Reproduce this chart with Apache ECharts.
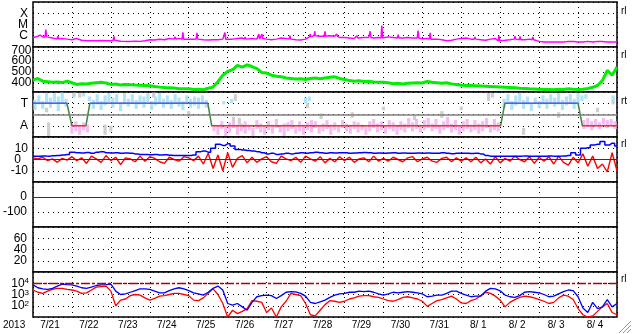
<!DOCTYPE html>
<html>
<head>
<meta charset="utf-8">
<script src="https://cdn.jsdelivr.net/npm/echarts@6/dist/echarts.min.js"></script>
<style>
html, body { margin: 0; padding: 0; background: #fff; }
#chart { width: 633px; height: 334px; }
</style>
</head>
<body>
<div id="chart"></div>
<script>
// days from 2013-07-21 00UT, samples every 3 hours
const STEP = 1 / 8;
const dayLabels = ["7/21", "7/22", "7/23", "7/24", "7/25", "7/26", "7/27", "7/28", "7/29", "7/30", "7/31", "8/ 1", "8/ 2", "8/ 3", "8/ 4"];

// log10 of X-ray background flux (W/m2)
const xrayLog = [
  -6.18, -6.05, -6.1, -6.1, -6.2, -6.3, -6.25, -6.3,
  -6.35, -6.25, -6.4, -6.45, -6.45, -6.45, -6.42, -6.45,
  -6.45, -6.4, -6.48, -6.5, -6.5, -6.48, -6.5, -6.45,
  -6.35, -6.38, -6.32, -6.35, -6.25, -6.3, -6.25, -6.3,
  -6.3, -6.32, -6.3, -6.35, -6.38, -6.35, -6.35, -6.3,
  -6.28, -6.3, -6.25, -6.2, -6.3, -6.25, -6.3, -6.25,
  -6.3, -6.35, -6.3, -6.2, -6.25, -6.3, -6.35, -6.38,
  -6.3, -6.1, -6.0, -6.05, -6.05, -6.0, -6.05, -6.15,
  -6.15, -6.2, -6.25, -6.2, -6.15, -6.15, -6.2, -6.15,
  -6.2, -6.1, -6.15, -6.2, -6.2, -6.15, -6.2, -6.2,
  -6.27, -6.25, -6.3, -6.3, -6.35, -6.45, -6.4, -6.3,
  -6.25, -6.2, -6.3, -6.3, -6.35, -6.4, -6.3, -6.25,
  -6.45, -6.4, -6.35, -6.3, -6.35, -6.35, -6.3, -6.35,
  -6.5, -6.55, -6.55, -6.55, -6.55, -6.55, -6.5, -6.52,
  -6.55, -6.55, -6.5, -6.55, -6.5, -6.52, -6.55, -6.55, -6.55
];
// short flares: [day, log10 peak]
const xrayFlares = [
  [0.18, -5.95], [0.33, -5.45], [0.64, -6.05], [1.13, -6.15], [2.08, -6.05],
  [3.65, -6.1], [3.85, -5.7], [4.21, -5.75], [4.93, -5.72], [5.45, -6.1],
  [5.8, -5.85], [5.88, -5.85], [6.6, -6.0], [7.12, -5.85], [7.24, -5.6],
  [7.5, -5.6], [7.63, -5.95], [7.8, -5.85], [8.32, -6.0], [8.66, -5.6],
  [8.96, -5.1], [9.38, -5.9], [9.89, -5.55], [10.2, -5.75], [11.35, -6.1],
  [11.97, -6.0], [12.38, -6.05], [12.51, -6.05], [12.84, -6.1], [13.54, -6.4]
];

// solar wind speed (km/s)
const windSpeed = [
  424, 440, 415, 410, 405, 408, 402, 415,
  400, 385, 392, 388, 395, 400, 405, 398,
  385, 388, 380, 385, 383, 380, 378, 376,
  372, 365, 360, 356, 354, 352, 346, 344,
  344, 338, 340, 336, 350, 360, 410, 470,
  505, 520, 560, 545, 565, 550, 530, 495,
  490, 470, 460, 455, 445, 440, 435, 438,
  430, 440, 445, 438, 445, 450, 455, 440,
  430, 420, 415, 418, 412, 415, 408, 405,
  405, 400, 392, 395, 388, 395, 398, 400,
  399, 412, 405, 400, 395, 400, 390, 385,
  378, 375, 374, 372, 370, 368, 366, 364,
  362, 358, 356, 354, 350, 348, 344, 342,
  340, 338, 338, 336, 340, 338, 344, 340,
  338, 340, 348, 358, 375, 420, 515, 470, 545
];

// IMF sector: +1 toward, -1 away
const sectorLine = [[0, 1], [0.87, 1], [1.0, -1], [1.36, -1], [1.46, 1], [4.49, 1], [4.59, -1],
  [12.01, -1], [12.12, 1], [14.0, 1], [14.11, -1], [15, -1]];

// sector point clouds: [day, low, high]
const sectorToward = [
  [0.05, 0.4, 1.3], [0.15, 0.9, 1.7], [0.25, 0.5, 1.2], [0.35, 1.0, 1.9], [0.45, 0.6, 1.5],
  [0.55, 1.1, 1.9], [0.65, 0.3, 1.6], [0.75, 1.0, 1.95], [0.85, 0.7, 1.4],
  [1.05, 1.5, 1.8], [1.3, 1.6, 1.9], [1.45, 1.2, 1.6],
  [1.55, 0.5, 1.3], [1.65, 0.9, 1.8], [1.75, 0.4, 1.2], [1.85, 0.8, 1.7], [1.95, 1.1, 1.9],
  [2.05, 0.6, 1.5], [2.15, 1.0, 1.8], [2.25, 0.3, 1.1], [2.35, 0.9, 1.9], [2.45, 0.7, 1.4],
  [2.55, 1.0, 1.8], [2.65, 0.5, 1.3], [2.75, 0.9, 1.7], [2.85, 0.6, 1.6], [2.95, 1.1, 1.9],
  [3.05, 0.4, 1.2], [3.15, 0.8, 1.6], [3.25, 1.0, 1.9], [3.35, 0.6, 1.4], [3.45, 0.9, 1.7],
  [3.55, 0.5, 1.3], [3.65, 1.0, 1.8], [3.75, 0.7, 1.5], [3.85, 0.4, 1.2], [3.95, 0.9, 1.7],
  [4.05, 0.6, 1.4], [4.15, 0.8, 1.6], [4.25, 0.5, 1.5], [4.35, 0.9, 1.7], [4.45, 0.6, 1.3],
  [4.9, 0.9, 1.2], [5.1, 1.0, 1.4], [7.0, 1.0, 1.5], [7.1, 1.2, 1.6],
  [12.1, 0.6, 1.4], [12.2, 1.0, 1.8], [12.3, 0.4, 1.2], [12.4, 0.8, 1.7], [12.5, 1.1, 1.9],
  [12.6, 0.5, 1.3], [12.7, 0.9, 1.6], [12.8, 0.3, 1.0], [12.9, 1.0, 1.5], [13.0, 0.6, 1.2],
  [13.1, 0.9, 1.7], [13.2, 0.5, 1.4], [13.3, 1.0, 1.8], [13.4, 0.7, 1.5], [13.5, 0.9, 1.9],
  [13.6, 0.4, 1.3], [13.7, 0.8, 1.6], [13.8, 1.0, 1.8], [13.9, 0.5, 1.4], [14.0, 0.9, 1.9],
  [14.1, 1.2, 1.7], [14.2, 1.4, 1.8], [14.9, 1.3, 1.7]
];
const sectorAway = [
  [1.0, -1.7, -0.8], [1.1, -1.5, -0.6], [1.2, -1.8, -1.0], [1.3, -1.4, -0.7], [1.4, -1.6, -0.9],
  [4.65, -1.5, -0.9], [4.75, -1.8, -1.0], [4.85, -1.3, -0.6], [4.95, -1.9, -1.1], [5.05, -1.6, -0.7],
  [5.15, -1.2, -0.5], [5.25, -1.8, -0.9], [5.35, -1.5, -0.8], [5.45, -1.7, -0.6], [5.55, -1.4, -0.9],
  [5.65, -1.9, -1.2], [5.75, -1.3, -0.5], [5.85, -1.6, -0.8], [5.95, -1.8, -1.0], [6.05, -1.4, -0.6],
  [6.15, -1.7, -0.9], [6.25, -1.2, -0.4], [6.35, -1.6, -1.0], [6.45, -1.9, -0.8], [6.55, -1.5, -0.7],
  [6.65, -1.3, -0.5], [6.75, -1.7, -1.1], [6.85, -1.5, -0.6], [6.95, -1.8, -0.9], [7.05, -1.4, -0.7],
  [7.15, -1.6, -0.5], [7.25, -1.2, -0.6], [7.35, -1.7, -1.0], [7.45, -1.5, -0.8], [7.55, -1.3, -0.5],
  [7.65, -1.8, -0.9], [7.75, -1.4, -0.7], [7.85, -1.6, -1.0], [7.95, -1.2, -0.5], [8.05, -1.5, -0.8],
  [8.15, -1.7, -0.9], [8.25, -1.3, -0.6], [8.35, -1.6, -0.7], [8.45, -1.4, -0.9], [8.55, -1.8, -1.1],
  [8.65, -1.5, -0.6], [8.75, -1.2, -0.4], [8.85, -1.6, -0.8], [8.95, -1.4, -0.6], [9.05, -1.7, -1.0],
  [9.15, -1.3, -0.5], [9.25, -1.5, -0.7], [9.35, -1.8, -0.9], [9.45, -1.4, -0.6], [9.55, -1.6, -0.8],
  [9.65, -1.2, -0.3], [9.75, -1.5, -0.7], [9.85, -1.3, -0.4], [9.95, -1.6, -0.9], [10.05, -1.4, -0.5],
  [10.15, -1.2, -0.3], [10.25, -1.5, -0.8], [10.35, -1.3, -0.4], [10.45, -1.7, -0.9], [10.55, -1.4, -0.6],
  [10.65, -1.2, -0.2], [10.75, -1.6, -0.8], [10.85, -1.4, -0.5], [10.95, -1.8, -1.0], [11.05, -1.5, -0.6],
  [11.15, -1.3, -0.4], [11.25, -1.6, -0.9], [11.35, -1.4, -0.5], [11.45, -1.7, -0.8], [11.55, -1.5, -0.6],
  [11.65, -1.2, -0.3], [11.75, -1.6, -0.9], [11.85, -1.4, -0.4], [11.95, -1.5, -0.7],
  [14.15, -1.3, -0.5], [14.25, -1.1, -0.3], [14.35, -1.4, -0.6], [14.45, -1.0, -0.4], [14.55, -1.3, -0.7],
  [14.65, -0.9, -0.3], [14.75, -1.2, -0.5], [14.85, -1.0, -0.4], [14.95, -1.3, -0.6]
];
const sectorMixed = [
  [0.35, 0.2, 0.6], [0.4, -1.9, -0.7], [1.05, 1.6, 1.95], [1.2, 1.5, 1.9], [1.85, -1.8, -0.9],
  [2.0, -1.5, -1.0], [3.1, 1.5, 1.95], [4.0, -0.2, 0.3], [5.15, -0.6, -0.2], [5.2, 1.2, 1.8],
  [5.3, -0.9, -0.3], [7.05, 0.6, 1.0], [7.4, -0.4, 0.1], [8.2, -0.3, 0.2], [9.0, 0.4, 0.7],
  [9.8, -0.5, -0.1], [10.5, -0.3, 0.3], [11.0, 0.4, 0.7], [11.7, 1.2, 1.9], [11.8, 1.5, 1.9],
  [12.6, -1.8, -1.2], [13.5, -0.3, 0.2], [14.5, 0.2, 0.6], [14.9, 0.9, 1.3]
];

// IMF Bt and Bz (nT)
const imfBt = [
  3.0, 2.8, 3.2, 3.0, 3.3, 3.5, 4.0, 4.5,
  6.5, 6.0, 5.8, 6.2, 5.5, 6.5, 7.0, 6.0,
  5.8, 6.0, 5.5, 5.8, 5.6, 5.0, 4.5, 4.4,
  4.3, 4.5, 4.0, 4.2, 3.8, 3.5, 3.6, 3.5,
  3.6, 4.0, 7.0, 7.5, 6.5, 10.0, 13.5, 12.5,
  14.0, 12.0, 9.0, 8.5, 8.0, 7.5, 7.0, 6.0,
  5.0, 5.5, 4.5, 5.0, 5.5, 5.0, 5.5, 6.0,
  5.5, 6.0, 6.5, 6.0, 5.5, 6.0, 5.8, 6.0,
  6.0, 5.5, 5.8, 6.0, 6.2, 6.0, 5.5, 5.8,
  5.5, 5.8, 6.0, 5.5, 5.8, 5.6, 5.5, 5.8,
  5.5, 5.8, 5.6, 5.5, 6.0, 5.5, 5.2, 5.5,
  5.5, 5.6, 5.4, 5.5, 5.0, 3.5, 3.0, 2.9,
  3.0, 2.8, 3.0, 2.9, 3.0, 3.1, 2.9, 3.0,
  3.0, 2.9, 3.2, 3.0, 3.0, 3.1, 3.5, 6.0,
  4.0, 10.0, 10.5, 13.0, 13.5, 16.0, 13.0, 14.5, 12.0
];
const imfBz = [
  1.5, 0.5, 2.0, -1.0, 0.5, -2.5, 1.0, -0.5,
  2.5, -1.0, 1.5, -3.5, 3.0, 0.5, -2.5, 3.5,
  -1.0, 2.0, -4.5, 1.5, 0.5, -2.0, 3.0, -1.5,
  2.5, 1.0, -2.0, -3.5, 2.0, 0.0, -1.5, 2.5,
  1.5, -1.0, 3.0, -4.0, 5.5, -8.0, 4.0, -10.0,
  6.0, -7.0, 1.0, 3.5, -3.0, 2.0, -2.5, 0.5,
  2.5, -2.0, -3.5, 3.0, 0.5, -1.0, 2.0, -2.5,
  3.0, 0.5, -1.5, 2.5, -3.0, 1.0, -2.0, 2.5,
  -1.0, 2.0, -2.5, 0.5, 1.5, -2.0, 3.0, -1.5,
  1.0, -1.5, 2.0, 0.0, -2.0, 1.5, 2.5, -2.0,
  0.5, 2.0, -1.5, -2.5, 1.0, 2.0, -2.0, 1.5,
  -1.5, 1.5, -2.0, 2.0, -3.0, 0.5, -4.0, 2.5,
  -3.0, 1.0, -1.5, 3.0, 0.0, -2.0, 2.5, -3.5,
  2.0, -1.5, 2.5, -4.0, 3.0, -2.5, -5.0, 2.0,
  -3.0, 5.0, -6.0, 3.0, -8.0, -4.0, -11.0, 6.0, -10.0
];

// log10 of particle flux, two channels
const fluxHigh = [
  3.85, 3.6, 3.5, 3.45, 3.55, 3.75, 3.92, 3.88,
  3.85, 3.75, 3.6, 3.55, 3.65, 3.8, 3.85, 3.88,
  3.93, 3.3, 3.0, 3.05, 3.2, 3.35, 3.5, 3.5,
  3.45, 3.3, 3.15, 3.15, 3.35, 3.5, 3.6, 3.5,
  3.35, 3.15, 3.05, 2.94, 3.2, 3.55, 3.75, 3.4,
  2.2, 2.05, 2.2, 1.9, 1.6, 2.3, 2.8, 2.9,
  2.94, 2.9, 2.64, 2.9, 3.2, 3.25, 3.24, 3.1,
  2.85, 2.3, 2.2, 2.35, 2.5, 2.75, 2.95, 3.05,
  3.1, 3.2, 3.2, 3.3, 3.25, 3.3, 3.2, 3.05,
  2.95, 3.05, 3.2, 3.15, 3.2, 3.25, 3.2, 3.15,
  3.05, 2.8, 2.85, 2.95, 2.95, 3.1, 3.3, 3.3,
  3.1, 2.95, 2.8, 2.85, 2.85, 3.3, 3.55, 3.5,
  3.33, 2.95, 2.8, 2.75, 2.9, 3.2, 3.25, 3.2,
  3.15, 3.0, 2.8, 2.85, 3.05, 3.25, 3.4, 3.35,
  2.8, 1.8, 1.4, 2.3, 1.75, 1.9, 2.55, 1.9, 2.2
];
const fluxLow = [
  3.4, 3.2, 3.1, 3.3, 3.45, 3.55, 3.55, 3.45,
  3.4, 3.3, 3.1, 3.15, 3.4, 3.65, 3.7, 3.75,
  3.3, 2.0, 2.5, 2.6, 2.9, 3.0, 2.95, 2.7,
  2.5, 2.65, 2.85, 2.9, 3.0, 3.1, 3.1, 3.0,
  2.9, 2.5, 2.45, 2.7, 3.1, 3.5, 3.0, 2.2,
  1.0, 1.6, 1.3, 1.5, 1.75, 2.45, 2.4, 2.3,
  1.4, 1.8, 1.0, 1.9, 2.4, 3.1, 3.0, 2.9,
  2.2, 1.2, 1.1, 1.6, 2.1, 2.45, 2.4, 2.3,
  2.4, 2.6, 2.7, 2.85, 2.9, 2.9, 2.8, 2.75,
  2.6, 2.45, 2.4, 2.55, 2.75, 2.8, 2.7, 2.6,
  2.4, 1.94, 2.2, 2.45, 2.55, 2.7, 2.85, 2.6,
  2.25, 2.2, 2.45, 2.6, 2.9, 3.2, 3.1, 2.85,
  2.5, 1.9, 2.3, 2.55, 2.75, 2.85, 2.8, 2.7,
  2.55, 2.4, 2.2, 2.3, 2.7, 2.94, 2.85, 2.55,
  1.75, 1.2, 1.0, 1.1, 1.5, 1.9, 2.2, 1.4, 1.2
];

const PANEL_TOPS = [2, 47, 92, 137, 182, 227, 272];
const PANEL_H = 45;
const DOT = { color: "#000", type: [1, 4], width: 1 };
const FONT = "Liberation Sans, Arial, sans-serif";

const sampled = arr => arr.map((v, i) => [i * STEP, v]);
const sampledPow = arr => arr.map((v, i) => [i * STEP, Math.pow(10, v)]);

// background samples plus narrow flare spikes, in time order
function xrayPoints() {
  const pts = xrayLog.map((v, i) => [i * STEP, v]);
  xrayFlares.forEach(([d, peak]) => {
    const base = xrayLog[Math.min(xrayLog.length - 1, Math.round(d / STEP))];
    pts.push([d - 0.02, base], [d, peak], [d + 0.02, base]);
  });
  pts.sort((a, b) => a[0] - b[0]);
  return pts.map(([d, v]) => [d, Math.pow(10, v)]);
}

function streak(color) {
  return function (params, api) {
    const d = api.value(0);
    const lo = api.coord([d, api.value(1)]);
    const hi = api.coord([d, api.value(2)]);
    return {
      type: "rect",
      shape: { x: lo[0] - 1.6, y: hi[1], width: 3.2, height: lo[1] - hi[1] },
      style: { fill: color }
    };
  };
}

function yAx(k, extra, labelFn, margin) {
  return Object.assign({
    gridIndex: k,
    axisLine: { show: false },
    axisTick: { show: false },
    splitLine: { show: true, lineStyle: DOT },
    axisLabel: { formatter: labelFn, color: "#000", fontSize: 12, fontFamily: FONT, margin: margin }
  }, extra);
}

const chart = echarts.init(document.getElementById("chart"), null, { renderer: "canvas" });

const grids = PANEL_TOPS.map(t => ({
  left: 33, top: t, width: 584, height: PANEL_H,
  show: true, borderColor: "#000", borderWidth: 1.5, backgroundColor: "#fff"
}));

const xAxes = PANEL_TOPS.map((t, k) => ({
  type: "value", gridIndex: k, min: 0, max: 15, interval: 1, position: "bottom",
  axisLine: { show: false }, axisTick: { show: false }, axisLabel: { show: false },
  splitLine: { show: true, lineStyle: DOT }
}));
xAxes.push({
  type: "category", gridIndex: 6, position: "bottom", data: dayLabels, boundaryGap: true,
  axisLine: { show: false }, axisTick: { show: false }, splitLine: { show: false },
  axisLabel: { interval: 0, fontSize: 10, color: "#000", fontFamily: FONT, margin: 3, padding: [0, 5, 0, 0] }
});

const xrayNames = { "-4": "X", "-5": "M", "-6": "C" };
const yAxes = [
  yAx(0, { type: "log", logBase: 10, min: 1e-7, max: 1e-3 },
    v => xrayNames[Math.round(Math.log10(v))] || "", 5),
  yAx(1, { type: "value", min: 315, max: 730, splitNumber: 4, minInterval: 100, maxInterval: 100 },
    v => (v % 100 === 0 ? String(v) : ""), 1.5),
  yAx(2, { type: "value", min: -2, max: 2, interval: 1 },
    v => (v === 1 ? "T" : v === -1 ? "A" : ""), 5),
  yAx(3, { type: "value", min: -20, max: 20, interval: 10 },
    v => (v === 0 ? "{z|0}" : Math.abs(v) === 10 ? String(v) : ""), 5),
  yAx(4, { type: "value", min: -200, max: 100, interval: 100 },
    v => (v === 0 || v === -100 ? String(v) : ""), 6),
  yAx(5, { type: "value", min: 0, max: 80, interval: 20 },
    v => (v > 0 && v < 80 ? String(v) : ""), 6),
  yAx(6, { type: "log", logBase: 10, min: 10, max: 1e5 },
    v => {
      const e = Math.round(Math.log10(v));
      return e >= 2 && e <= 4 ? "{b|10}{s|" + e + "}" : "";
    }, 4)
];
yAxes[3].axisLabel.rich = { z: { fontSize: 12, fontFamily: FONT, color: "#000", padding: [0, 7, 0, 0] } };
yAxes[6].axisLabel.rich = {
  b: { fontSize: 12, fontFamily: FONT, color: "#000", lineHeight: 12, padding: [4, 0, 0, 0], verticalAlign: "bottom" },
  s: { fontSize: 8, fontFamily: FONT, color: "#000", lineHeight: 8, verticalAlign: "top" }
};

const refLine = (color, width, type, value) => ({
  silent: true, symbol: "none", label: { show: false }, animation: false,
  lineStyle: { color: color, width: width, type: type }, data: [{ yAxis: value }]
});

const series = [
  { type: "line", xAxisIndex: 0, yAxisIndex: 0, data: xrayPoints(),
    symbol: "none", lineStyle: { color: "#ff00ff", width: 1.5 } },
  { type: "line", xAxisIndex: 1, yAxisIndex: 1, data: sampled(windSpeed),
    symbol: "none", lineStyle: { color: "#00ee00", width: 3 } },
  { type: "custom", xAxisIndex: 2, yAxisIndex: 2, data: sectorToward, renderItem: streak("#aee4f6"),
    encode: { x: 0, y: [1, 2] } },
  { type: "custom", xAxisIndex: 2, yAxisIndex: 2, data: sectorAway, renderItem: streak("#f4bcf2"),
    encode: { x: 0, y: [1, 2] } },
  { type: "custom", xAxisIndex: 2, yAxisIndex: 2, data: sectorMixed, renderItem: streak("#cfcfcf"),
    encode: { x: 0, y: [1, 2] }, markLine: refLine("#808080", 1.5, "solid", 0) },
  { type: "line", xAxisIndex: 2, yAxisIndex: 2, data: sectorLine, symbol: "none",
    lineStyle: { width: 1.5 }, z: 4 },
  { type: "line", xAxisIndex: 3, yAxisIndex: 3, data: sampled(imfBz),
    symbol: "none", lineStyle: { color: "#ff0000", width: 1.4 },
    markLine: refLine("#b00000", 1.2, "solid", 0) },
  { type: "line", xAxisIndex: 3, yAxisIndex: 3, data: sampled(imfBt), step: "middle",
    symbol: "none", lineStyle: { color: "#0000ff", width: 1.5 } },
  { type: "line", xAxisIndex: 4, yAxisIndex: 4, data: [], symbol: "none",
    markLine: refLine("#b00000", 1.2, "solid", 0) },
  { type: "line", xAxisIndex: 6, yAxisIndex: 6, data: sampledPow(fluxLow),
    symbol: "none", lineStyle: { color: "#ff0000", width: 1.3 },
    markLine: refLine("#b00000", 1.3, [9, 2, 3, 2], 1e4) },
  { type: "line", xAxisIndex: 6, yAxisIndex: 6, data: sampledPow(fluxHigh),
    symbol: "none", lineStyle: { color: "#0000ff", width: 1.3 } }
];

const sideLabels = [["rl", 12], ["rl", 56], ["rt", 102], ["rl", 145], ["rl", 280]];
const graphics = sideLabels.map(([t, y]) => ({
  type: "text", left: 621, top: y - 6,
  style: { text: t, fontSize: 10, fontFamily: FONT, fill: "#000" }
}));
graphics.push({ type: "text", left: 3, top: 320, style: { text: "2013", fontSize: 10, fontFamily: FONT, fill: "#000" } });
[[631, 321], [631, 325], [631, 329]].forEach(([x, y]) => {
  graphics.push({ type: "line", shape: { x1: x, y1: y, x2: x - (333 - y), y2: 333 },
    style: { stroke: "#9a9a9a", lineWidth: 1 } });
});

chart.setOption({
  animation: false,
  backgroundColor: "#fff",
  grid: grids,
  xAxis: xAxes,
  yAxis: yAxes,
  visualMap: {
    type: "piecewise", show: false, seriesIndex: 5, dimension: 1,
    pieces: [
      { gt: 0.98, color: "#3a3adc" },
      { lt: -0.98, color: "#dc2a2a" },
      { gte: -0.98, lte: 0.98, color: "#3f8a3f" }
    ]
  },
  series: series,
  graphic: graphics
});
</script>
</body>
</html>
